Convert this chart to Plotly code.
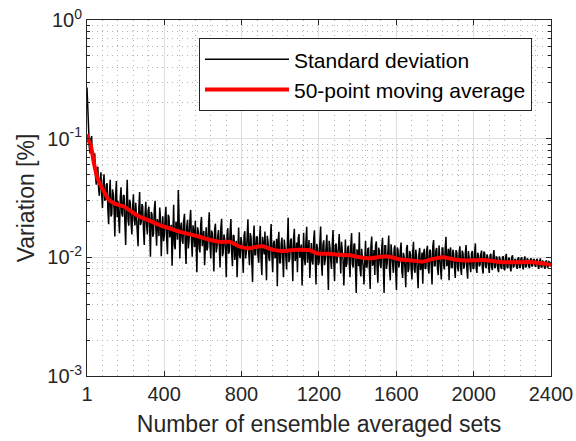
import plotly.graph_objects as go

# ---- data ----
# standard deviation read at sets 1, 9, 17, ... and at sets 5, 13, 21, ...
sets_a = list(range(1, 2401, 8))
std_a = [
    0.27, 0.125, 0.075, 0.105, 0.062, 0.075, 0.041, 0.058, 0.033, 0.052,
    0.026, 0.050, 0.031, 0.042, 0.019, 0.045, 0.023, 0.034, 0.015, 0.044,
    0.030, 0.016, 0.039, 0.022, 0.033, 0.0127, 0.045, 0.0185, 0.029, 0.0156,
    0.034, 0.0186, 0.0228, 0.0124, 0.0355, 0.0196, 0.0269, 0.0127, 0.0294, 0.0156,
    0.0267, 0.0101, 0.023, 0.0158, 0.030, 0.0125, 0.019, 0.0263, 0.0102, 0.0222,
    0.0153, 0.0267, 0.0106, 0.0218, 0.0163, 0.0085, 0.0277, 0.0117, 0.0183, 0.037,
    0.0098, 0.0196, 0.013, 0.0233, 0.0088, 0.0207, 0.0142, 0.0251, 0.0101, 0.0163,
    0.0203, 0.0075, 0.0163, 0.011, 0.0219, 0.0138, 0.0086, 0.0179, 0.0121, 0.024,
    0.0098, 0.016, 0.0076, 0.0192, 0.0122, 0.017, 0.0082, 0.0211, 0.0109, 0.0142,
    0.0068, 0.0176, 0.0113, 0.021, 0.0084, 0.0152, 0.0119, 0.0068, 0.0178, 0.0098,
    0.0135, 0.0074, 0.0166, 0.0111, 0.0209, 0.0086, 0.0148, 0.0062, 0.0185, 0.0105,
    0.015, 0.009, 0.0184, 0.0071, 0.0124, 0.0165, 0.0064, 0.0135, 0.0093, 0.0191,
    0.0075, 0.0138, 0.0103, 0.0057, 0.0164, 0.009, 0.0147, 0.0068, 0.0124, 0.0079,
    0.0216, 0.0097, 0.0144, 0.0063, 0.0174, 0.0104, 0.0075, 0.0157, 0.0116, 0.0058,
    0.0161, 0.0086, 0.0181, 0.0106, 0.0067, 0.0132, 0.0087, 0.0169, 0.0059, 0.0119,
    0.0091, 0.0182, 0.007, 0.0139, 0.0096, 0.0155, 0.0053, 0.0122, 0.008, 0.017,
    0.0063, 0.0131, 0.01, 0.0157, 0.0073, 0.0115, 0.0058, 0.0141, 0.0089, 0.0125,
    0.0068, 0.016, 0.0082, 0.0131, 0.005, 0.0114, 0.0163, 0.0069, 0.0103, 0.0059,
    0.0137, 0.0083, 0.0119, 0.0054, 0.015, 0.009, 0.0071, 0.0136, 0.0061, 0.0111,
    0.0081, 0.0146, 0.005, 0.0125, 0.0089, 0.0153, 0.0064, 0.0108, 0.0074, 0.0126,
    0.0053, 0.0115, 0.0091, 0.0133, 0.0067, 0.01, 0.0056, 0.0127, 0.008, 0.0108,
    0.0065, 0.0135, 0.0074, 0.0101, 0.0055, 0.012, 0.0083, 0.006, 0.0118, 0.0081,
    0.0125, 0.0073, 0.0113, 0.0059, 0.014, 0.0085, 0.012, 0.0071, 0.0106, 0.0065,
    0.012, 0.0079, 0.0149, 0.0088, 0.0064, 0.0121, 0.0082, 0.0106, 0.0067, 0.011,
    0.0076, 0.0124, 0.0071, 0.0108, 0.0085, 0.0127, 0.0066, 0.0099, 0.0075, 0.0113,
    0.0081, 0.0131, 0.0074, 0.0105, 0.0086, 0.0114, 0.0073, 0.0109, 0.0081, 0.01,
    0.0074, 0.0107, 0.0078, 0.0115, 0.0083, 0.01, 0.0075, 0.0096, 0.008, 0.0102,
    0.0078, 0.0107, 0.0082, 0.0098, 0.0076, 0.0104, 0.0084, 0.0096, 0.008, 0.01,
    0.0082, 0.01, 0.0079, 0.0102, 0.0084, 0.0096, 0.0081, 0.0098, 0.0085, 0.0096,
    0.0083, 0.0097, 0.008, 0.0098, 0.0083, 0.0092, 0.008, 0.0094, 0.0083, 0.0091,
]

sets_b = list(range(5, 2401, 8))
std_b = [
    0.14, 0.085, 0.098, 0.068, 0.07, 0.048, 0.056, 0.038, 0.045, 0.034,
    0.042, 0.030, 0.041, 0.025, 0.0336, 0.0221, 0.0374, 0.0252, 0.0332, 0.0218,
    0.0214, 0.0318, 0.0236, 0.0335, 0.0191, 0.029, 0.0211, 0.0306, 0.0194, 0.0262,
    0.021, 0.0288, 0.0158, 0.0256, 0.0187, 0.0281, 0.017, 0.0232, 0.0188, 0.0248,
    0.0173, 0.0241, 0.0149, 0.0255, 0.0174, 0.021, 0.0151, 0.0215, 0.0167, 0.0137,
    0.0215, 0.0142, 0.0228, 0.0147, 0.0188, 0.0152, 0.0126, 0.02, 0.0141, 0.0215,
    0.018, 0.0139, 0.0203, 0.0128, 0.0183, 0.0119, 0.0204, 0.014, 0.0186, 0.0122,
    0.0135, 0.0179, 0.0118, 0.0191, 0.0124, 0.0167, 0.0158, 0.0114, 0.0178, 0.0126,
    0.0168, 0.0118, 0.0173, 0.011, 0.015, 0.0122, 0.0177, 0.0102, 0.0156, 0.0115,
    0.0155, 0.0107, 0.0165, 0.011, 0.0154, 0.0095, 0.0138, 0.0161, 0.0105, 0.0148,
    0.0105, 0.0154, 0.0098, 0.0148, 0.0111, 0.016, 0.0092, 0.0141, 0.0105, 0.0148,
    0.0102, 0.0144, 0.0095, 0.0149, 0.0106, 0.0094, 0.0152, 0.0099, 0.0139, 0.0104,
    0.0132, 0.0098, 0.0143, 0.0137, 0.009, 0.013, 0.0096, 0.0141, 0.0102, 0.0147,
    0.0091, 0.0138, 0.0104, 0.0145, 0.0093, 0.0133, 0.0145, 0.0099, 0.0128, 0.0151,
    0.0098, 0.0137, 0.009, 0.014, 0.0128, 0.0094, 0.0142, 0.0098, 0.013, 0.0086,
    0.0134, 0.0091, 0.0128, 0.0086, 0.0122, 0.009, 0.0138, 0.0095, 0.0127, 0.009,
    0.0126, 0.0089, 0.0121, 0.0083, 0.0135, 0.0094, 0.013, 0.0083, 0.012, 0.0088,
    0.0125, 0.0088, 0.0128, 0.0081, 0.0115, 0.0084, 0.0079, 0.0118, 0.0083, 0.0123,
    0.0083, 0.0118, 0.0079, 0.0124, 0.0085, 0.0115, 0.0126, 0.0081, 0.0121, 0.0086,
    0.0121, 0.0086, 0.0125, 0.008, 0.0114, 0.0079, 0.0129, 0.0083, 0.0118, 0.0078,
    0.0121, 0.0082, 0.0115, 0.0076, 0.0109, 0.0081, 0.0118, 0.0075, 0.0113, 0.008,
    0.0112, 0.0079, 0.0116, 0.0074, 0.0106, 0.0078, 0.011, 0.0107, 0.008, 0.0114,
    0.0082, 0.0116, 0.0083, 0.0124, 0.0085, 0.0115, 0.008, 0.0126, 0.0086, 0.012,
    0.0085, 0.0119, 0.0084, 0.0118, 0.0113, 0.0082, 0.0116, 0.0082, 0.0115, 0.0082,
    0.0109, 0.0081, 0.0114, 0.008, 0.0108, 0.008, 0.0113, 0.008, 0.0108, 0.008,
    0.0109, 0.0081, 0.0109, 0.0084, 0.0106, 0.0081, 0.0112, 0.0084, 0.0106, 0.0084,
    0.0104, 0.0082, 0.0103, 0.0081, 0.0101, 0.008, 0.0102, 0.0082, 0.01, 0.008,
    0.01, 0.0082, 0.0098, 0.0082, 0.01, 0.0082, 0.0096, 0.0084, 0.0098, 0.0082,
    0.0098, 0.0084, 0.0096, 0.0082, 0.0098, 0.0084, 0.0096, 0.0084, 0.0096, 0.0085,
    0.0095, 0.0084, 0.0093, 0.0083, 0.0093, 0.0083, 0.0092, 0.0083, 0.0092, 0.0084,
]

ma_sets = [1, 10, 20, 28, 36, 45, 54, 70, 88, 110, 140, 170, 191, 220, 243, 274,
           320, 377, 430, 481, 530, 584, 640, 688, 740, 791, 840, 877, 910, 960,
           1013, 1060, 1100, 1153, 1189, 1250, 1300, 1360, 1410, 1463, 1520, 1566,
           1620, 1680, 1737, 1790, 1841, 1900, 1965, 2047, 2100, 2150, 2230, 2306,
           2350, 2400]
moving_avg = [0.109, 0.096, 0.088, 0.076, 0.063, 0.054, 0.047, 0.041, 0.036, 0.031,
              0.0286, 0.0275, 0.0268, 0.025, 0.0235, 0.022, 0.0205, 0.0187, 0.0175,
              0.0164, 0.0157, 0.0149, 0.014, 0.0135, 0.0135, 0.0123, 0.0119, 0.0123,
              0.0124, 0.0116, 0.0113, 0.0115, 0.0116, 0.0115, 0.0108, 0.0107, 0.0105,
              0.0104, 0.0100, 0.0098, 0.0101, 0.0101, 0.0096, 0.0094, 0.0092, 0.0097,
              0.0100, 0.0096, 0.0094, 0.0095, 0.0093, 0.0091, 0.0091, 0.0091, 0.0089,
              0.0087]

x_ticks = [1, 400, 800, 1200, 1600, 2000, 2400]
y_ticks = [1e-3, 1e-2, 1e-1, 1]
y_tick_text = ["10<sup>-3</sup>", "10<sup>-2</sup>", "10<sup>-1</sup>", "10<sup>0</sup>"]

# merge the two readings into one series ordered by set number
merged = sorted(zip(sets_a + sets_b, std_a + std_b))
sets = [p[0] for p in merged]
std_dev = [p[1] for p in merged]

# ---- figure ----
FONT = "Liberation Sans, Arial, sans-serif"
AX = "#262626"

fig = go.Figure()
fig.add_trace(go.Scatter(x=sets, y=std_dev, mode="lines", name="Standard deviation",
                         line=dict(color="black", width=1.5)))
fig.add_trace(go.Scatter(x=ma_sets, y=moving_avg, mode="lines", name="50-point moving average",
                         line=dict(color="#ff0000", width=4, shape="spline", smoothing=0.6)))

fig.update_layout(
    width=576, height=441,
    margin=dict(l=87, r=25, t=20, b=65, autoexpand=False),
    paper_bgcolor="white", plot_bgcolor="white",
    font=dict(family=FONT, color=AX, size=20),
    showlegend=True,
    legend=dict(x=0.959, y=0.949, xanchor="right", yanchor="top",
                bgcolor="white", bordercolor=AX, borderwidth=1,
                font=dict(family=FONT, size=21, color="black"),
                itemwidth=84, tracegroupgap=0),
)

fig.update_xaxes(
    range=[1, 2400], tickmode="array", tickvals=x_ticks, automargin=False,
    ticklabeloverflow="allow",
    ticks="inside", ticklen=5, tickcolor=AX, tickwidth=1,
    showline=True, linecolor=AX, linewidth=1, mirror="ticks",
    showgrid=True, gridcolor="#dedede", gridwidth=1,
    zeroline=False,
    tickfont=dict(family=FONT, size=20, color=AX),
    title=dict(text="Number of ensemble averaged sets", font=dict(family=FONT, size=23, color=AX),
               standoff=11),
    minor=dict(tick0=0, dtick=80, ticks="", showgrid=True, gridcolor="#b4b4b4",
               griddash="1px,4px", gridwidth=1),
)

fig.update_yaxes(
    type="log", range=[-3, 0], tickmode="array", tickvals=y_ticks, ticktext=y_tick_text,
    automargin=False, ticklabeloverflow="allow",
    ticks="inside", ticklen=5, tickcolor=AX, tickwidth=1,
    showline=True, linecolor=AX, linewidth=1, mirror="ticks",
    showgrid=True, gridcolor="#dedede", gridwidth=1,
    zeroline=False,
    tickfont=dict(family=FONT, size=20, color=AX),
    title=dict(text="Variation [%]", font=dict(family=FONT, size=23, color=AX), standoff=6),
    minor=dict(dtick="D1", ticks="inside", ticklen=3, tickcolor=AX, showgrid=True,
               gridcolor="#b4b4b4", griddash="1px,4px", gridwidth=1),
)

# remove the default page margin so the figure fills the window exactly
fig.write_html("out.html", config={"displayModeBar": False},
               post_script="document.body.style.margin='0px';")
